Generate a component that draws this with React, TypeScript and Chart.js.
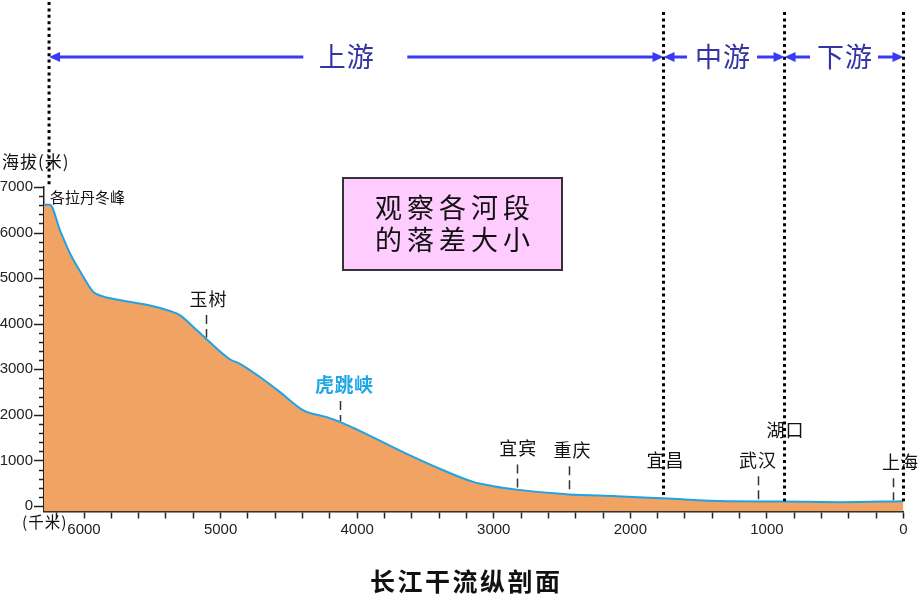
import React, { useEffect, useRef } from 'react';
import { Chart, registerables } from 'chart.js';

Chart.register(...registerables);

// ---- Data (distance from river mouth in km, elevation in m) ----
const distanceKm = [6293, 6250, 6176, 6102, 6005, 5932, 5883, 5761, 5517, 5371, 5298, 5200, 5102, 4932, 4858, 4712, 4565, 4394, 4223, 4126, 4004, 3613, 3370, 3150, 3003, 2832, 2539, 2449, 2100, 1761, 1292, 882, 465, 0];
const elevationM = [6610, 6610, 6050, 5540, 5030, 4700, 4620, 4530, 4400, 4280, 4190, 3930, 3660, 3220, 3120, 2830, 2500, 2100, 1950, 1845, 1680, 1110, 785, 530, 435, 360, 275, 255, 215, 170, 105, 100, 85, 105];

const xTickStep = 200;
const xTickMax = 6200;
const xLabelStep = 1000;
const yTickStep = 200;
const yTickMax = 7000;
const yLabelStep = 1000;

const placeNames = ['各拉丹冬峰', '玉树', '虎跳峡', '宜宾', '重庆', '宜昌', '武汉', '湖口', '上海'];
const placeKm = [6256, 5107, 4126, 2832, 2449, 1757, 1066, 871, 77];
const placeElev = [6610, 3674, 1844, 360, 257, 170, 103, 103, 103];

const sectionNames = ['上游', '中游', '下游'];
const sectionBoundsKm = [6256, 1757, 871, 0];
const boundaryEndElev = [7000, 170, 103, 103];

const yAxisTitle = '海拔(米)';
const xAxisTitle = '(千米)';
const chartTitle = '长江干流纵剖面';
const noteLines = ['观察各河段', '的落差大小'];

// ---- styles ----
const CJK = '"Noto Sans CJK SC", "Noto Sans", sans-serif';
const LATIN = '"Liberation Sans", Arial, sans-serif';
const AXIS_COLOR = '#222';

// label layout per place: dx, dy relative to curve point, size, gap, bold, color, dash, align
const placeStyle = [
  { dx: 1, dy: -7, size: 15, gap: 0, bold: false, color: '#111', dash: false, align: 'left' },
  { dx: 2, dy: -39.5, size: 18, gap: 1, bold: false, color: '#111', dash: true, align: 'center' },
  { dx: 4, dy: -37, size: 19, gap: 0.5, bold: true, color: '#1FA6E6', dash: true, align: 'center' },
  { dx: 1, dy: -41, size: 18, gap: 1, bold: false, color: '#111', dash: true, align: 'center' },
  { dx: 3, dy: -44, size: 18, gap: 1, bold: false, color: '#111', dash: true, align: 'center' },
  { dx: 1.5, dy: -38, size: 18, gap: 1, bold: false, color: '#111', dash: false, align: 'center' },
  { dx: -0.5, dy: -41, size: 18, gap: 1, bold: false, color: '#111', dash: true, align: 'center' },
  { dx: 0.5, dy: -71, size: 18, gap: 1, bold: false, color: '#111', dash: false, align: 'center' },
  { dx: 7, dy: -39, size: 18, gap: 0, bold: false, color: '#111', dash: true, align: 'center' },
];

function spacedText(ctx: CanvasRenderingContext2D, text: string, x: number, cy: number, gap: number, align: string) {
  const chars = Array.from(text);
  const widths = chars.map((c) => ctx.measureText(c).width);
  const total = widths.reduce((a, b) => a + b, 0) + gap * (chars.length - 1);
  let cx = align === 'center' ? x - total / 2 : align === 'left' ? x : x - total;
  ctx.textAlign = 'left';
  ctx.textBaseline = 'middle';
  chars.forEach((c, i) => {
    ctx.fillText(c, cx, cy);
    cx += widths[i] + gap;
  });
}

function arrow(ctx: CanvasRenderingContext2D, from: number, to: number, y: number) {
  const dir = Math.sign(to - from);
  ctx.beginPath();
  ctx.moveTo(from, y);
  ctx.lineTo(to - dir * 8, y);
  ctx.stroke();
  ctx.beginPath();
  ctx.moveTo(to, y);
  ctx.lineTo(to - dir * 11, y - 5);
  ctx.lineTo(to - dir * 11, y + 5);
  ctx.closePath();
  ctx.fill();
}

const overlayPlugin = {
  id: 'overlay',
  afterDraw(chart: any) {
    const ctx: CanvasRenderingContext2D = chart.ctx;
    const xs = chart.scales.x;
    const ys = chart.scales.y;
    const X = (v: number) => xs.getPixelForValue(v);
    const Y = (v: number) => ys.getPixelForValue(v);
    const left = chart.chartArea.left;
    ctx.save();

    // y-axis tick marks (major long, minor short)
    ctx.strokeStyle = AXIS_COLOR;
    ctx.lineWidth = 1.5;
    ys.ticks.forEach((t: any) => {
      const y = Math.round(Y(t.value)) + 0.5;
      const len = t.value % yLabelStep === 0 ? 10 : 5;
      ctx.beginPath();
      ctx.moveTo(left - len, y);
      ctx.lineTo(left, y);
      ctx.stroke();
    });

    // dotted section boundaries
    ctx.strokeStyle = '#000';
    ctx.lineWidth = 3;
    ctx.setLineDash([3, 3.4]);
    sectionBoundsKm.forEach((km, i) => {
      const x = X(km);
      const top = i === 0 ? 2 : 12;
      ctx.beginPath();
      ctx.moveTo(x, top);
      ctx.lineTo(x, Y(boundaryEndElev[i]));
      ctx.stroke();
    });
    ctx.setLineDash([]);

    // section arrows + names
    const arrowY = 57;
    const gaps = [[53, 51, -10], [37, 33, -1.5], [34, 34, 0.5]];
    ctx.lineWidth = 3;
    sectionNames.forEach((name, i) => {
      const xa = X(sectionBoundsKm[i]);
      const xb = X(sectionBoundsKm[i + 1]);
      const mid = (xa + xb) / 2;
      const [gl, gr, tOff] = gaps[i];
      ctx.strokeStyle = '#3A3AF2';
      ctx.fillStyle = '#3A3AF2';
      arrow(ctx, mid - gl, xa, arrowY);
      arrow(ctx, mid + gr, xb, arrowY);
      ctx.fillStyle = '#3434A4';
      ctx.font = `27px ${CJK}`;
      spacedText(ctx, name, mid + tOff, arrowY, 1, 'center');
    });

    // place markers and labels
    placeNames.forEach((name, i) => {
      const s = placeStyle[i];
      const px = X(placeKm[i]);
      const py = Y(placeElev[i]);
      const ly = py + s.dy;
      if (s.dash) {
        ctx.strokeStyle = '#333';
        ctx.lineWidth = 1.5;
        ctx.setLineDash([9, 5]);
        ctx.beginPath();
        ctx.moveTo(Math.round(px) + 0.5, ly + 16);
        ctx.lineTo(Math.round(px) + 0.5, py - 1);
        ctx.stroke();
        ctx.setLineDash([]);
      }
      ctx.fillStyle = s.color;
      ctx.font = `${s.bold ? 'bold ' : ''}${s.size}px ${CJK}`;
      spacedText(ctx, name, px + s.dx, ly, s.gap, s.align);
    });

    // note box
    ctx.fillStyle = '#FFCCFF';
    ctx.fillRect(343, 178, 219, 92);
    ctx.strokeStyle = '#333';
    ctx.lineWidth = 2;
    ctx.strokeRect(343, 178, 219, 92);
    ctx.fillStyle = '#111';
    ctx.font = `27px ${CJK}`;
    spacedText(ctx, noteLines[0], 452.5, 207.5, 5, 'center');
    spacedText(ctx, noteLines[1], 452.5, 240, 5, 'center');

    // axis titles
    ctx.fillStyle = '#111';
    ctx.font = `17px ${CJK}`;
    spacedText(ctx, yAxisTitle, 2, 162, 1, 'left');
    ctx.font = `15.5px ${CJK}`;
    spacedText(ctx, xAxisTitle, 22, 522, 1, 'left');

    // chart title
    ctx.font = `bold 25px ${CJK}`;
    ctx.fillStyle = '#111';
    spacedText(ctx, chartTitle, 465, 581.5, 2.5, 'center');

    ctx.restore();
  },
};

export default function App() {
  const ref = useRef<HTMLCanvasElement>(null);

  useEffect(() => {
    const canvas = ref.current;
    if (!canvas) return;
    const xTicks: number[] = [];
    for (let v = 0; v <= xTickMax; v += xTickStep) xTicks.push(v);
    const yTicks: number[] = [];
    for (let v = 0; v <= yTickMax; v += yTickStep) yTicks.push(v);

    const chart = new Chart(canvas, {
      type: 'line',
      data: {
        datasets: [
          {
            data: distanceKm.map((d, i) => ({ x: d, y: elevationM[i] })),
            borderColor: '#1FA2E6',
            borderWidth: 2,
            backgroundColor: '#F1A363',
            fill: 'start',
            pointRadius: 0,
            cubicInterpolationMode: 'monotone',
          },
        ],
      },
      options: {
        animation: false,
        responsive: false,
        events: [],
        layout: { padding: { left: 0, top: 187, right: 16.5, bottom: 63.5 } },
        plugins: {
          legend: { display: false },
          tooltip: { enabled: false },
          title: { display: false },
        },
        scales: {
          x: {
            type: 'linear',
            reverse: true,
            min: 0,
            max: 6293,
            afterBuildTicks: (s: any) => {
              s.ticks = xTicks.map((v) => ({ value: v }));
            },
            afterFit: (s: any) => {
              s.height = 40;
            },
            ticks: {
              autoSkip: false,
              maxRotation: 0,
              padding: 2,
              color: AXIS_COLOR,
              font: { family: LATIN, size: 15 },
              callback: (v: any) => (Number(v) % xLabelStep === 0 ? String(v) : ''),
            },
            grid: { drawOnChartArea: false, tickLength: 7, tickColor: AXIS_COLOR, tickWidth: 1.5 },
            border: { color: AXIS_COLOR, width: 1.5 },
          },
          y: {
            type: 'linear',
            min: -120,
            max: 7000,
            afterBuildTicks: (s: any) => {
              s.ticks = yTicks.map((v) => ({ value: v }));
            },
            afterFit: (s: any) => {
              s.width = 44;
            },
            ticks: {
              autoSkip: false,
              padding: 1,
              color: AXIS_COLOR,
              font: { family: LATIN, size: 15 },
              callback: (v: any) => (Number(v) % yLabelStep === 0 ? String(v) : ''),
            },
            grid: { drawOnChartArea: false, tickLength: 10, tickColor: 'rgba(0,0,0,0)' },
            border: { color: AXIS_COLOR, width: 1.5 },
          },
        },
      },
      plugins: [overlayPlugin],
    } as any);
    return () => chart.destroy();
  }, []);

  return (
    <div style={{ position: 'fixed', left: 0, top: 0, width: 920, height: 615, background: '#fff' }}>
      <canvas ref={ref} width={920} height={615} style={{ display: 'block', width: 920, height: 615 }} />
    </div>
  );
}
